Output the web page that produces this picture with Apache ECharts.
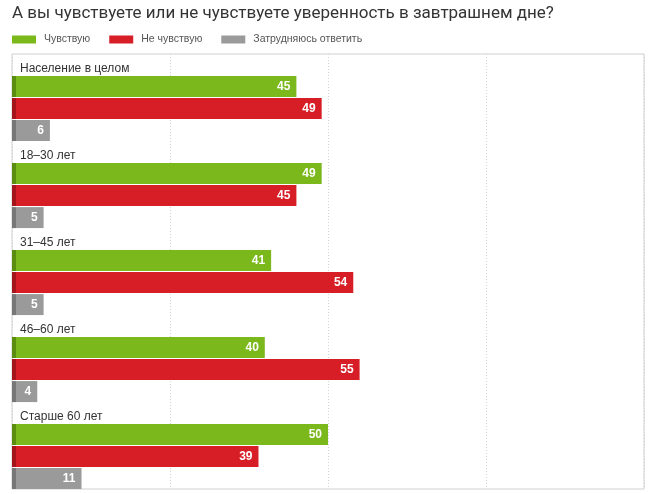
<!DOCTYPE html>
<html><head><meta charset="utf-8">
<script src="https://cdn.jsdelivr.net/npm/echarts@6/dist/echarts.min.js"></script>
<style>html,body{margin:0;padding:0;background:#fff}#c{width:650px;height:494px}</style>
</head><body><div id="c"></div>
<script>
const title = 'А вы чувствуете или не чувствуете уверенность в завтрашнем дне?';
const categories = ['Население в целом', '18–30 лет', '31–45 лет', '46–60 лет', 'Старше 60 лет'];
const seriesNames = ['Чувствую', 'Не чувствую', 'Затрудняюсь ответить'];
const feel = [45, 49, 41, 40, 50];
const notFeel = [49, 45, 54, 55, 39];
const hard = [6, 5, 5, 4, 11];
const xTicks = [0, 25, 50, 75, 100];

const colors = ['#7ab81b', '#d71d26', '#9a9a9a'];
const darks = ['#5a8c10', '#a3141b', '#777777'];

function fill(i) {
  return {type: 'linear', x: 12, y: 0, x2: 16, y2: 0, global: true,
    colorStops: [{offset: 0, color: darks[i]}, {offset: 0.99, color: darks[i]}, {offset: 1, color: colors[i]}]};
}

const chart = echarts.init(document.getElementById('c'));
const valueSeries = [feel, notFeel, hard].map((d, i) => ({
  name: seriesNames[i], type: 'bar', data: d, barWidth: 21, barGap: '5%',
  itemStyle: {color: fill(i)},
  label: {show: true, position: 'insideRight', distance: 6, color: '#fff',
    fontFamily: 'Liberation Sans', fontSize: 12, fontWeight: 'bold'}
}));

chart.setOption({
  animation: false,
  backgroundColor: '#fff',
  title: {text: title, left: 12, top: 5, padding: 0,
    textStyle: {fontFamily: 'Roboto', fontSize: 17, fontWeight: 'normal', color: '#333'}},
  legend: {data: seriesNames.map((n, i) => ({name: n, itemStyle: {color: colors[i]}})),
    left: 12, top: 34, padding: 0, itemWidth: 24, itemHeight: 8, itemGap: 19, icon: 'rect',
    textStyle: {fontFamily: 'Liberation Sans', fontSize: 10.5, color: '#555', padding: [0, 0, 0, 3]}},
  grid: {left: 12, right: 6, top: 54, bottom: 5, show: true, borderColor: '#d0d0d0', borderWidth: 1},
  xAxis: {type: 'value', min: xTicks[0], max: xTicks[xTicks.length - 1], interval: 25,
    axisLabel: {show: false}, axisLine: {show: false}, axisTick: {show: false},
    splitLine: {show: true, lineStyle: {color: '#d4d4d4', type: [1, 2]}}},
  yAxis: {type: 'category', data: categories, inverse: true,
    axisLabel: {show: false}, axisLine: {show: false}, axisTick: {show: false}},
  series: [{
    name: 'label', type: 'bar', data: categories.map(() => 0), barWidth: 21, barGap: '5%',
    itemStyle: {color: 'rgba(0,0,0,0)'}, silent: true,
    label: {show: true, position: 'right', distance: 8, offset: [0, 4],
      formatter: p => categories[p.dataIndex],
      fontFamily: 'Liberation Sans', fontSize: 12, color: '#333'}
  }].concat(valueSeries)
});
</script></body></html>
